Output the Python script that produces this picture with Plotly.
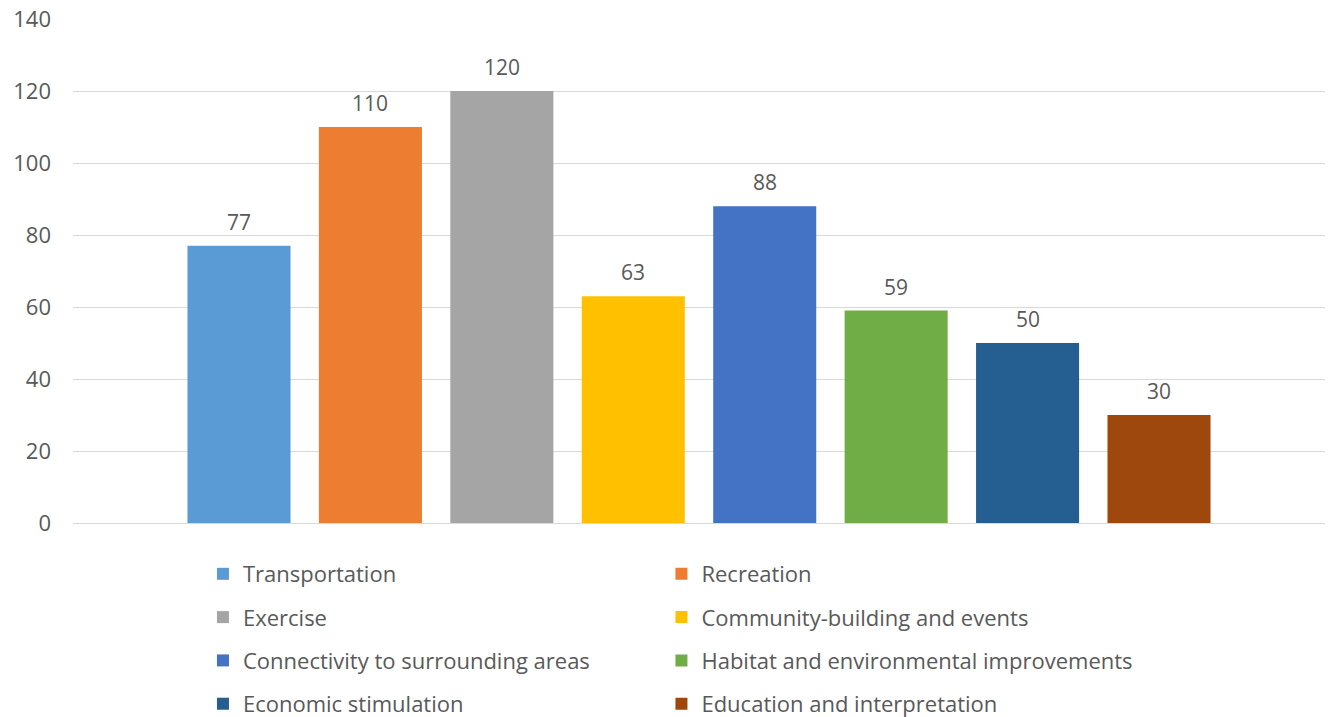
import plotly.graph_objects as go

# Survey responses per benefit category
categories = [
    "Transportation",
    "Recreation",
    "Exercise",
    "Community-building and events",
    "Connectivity to surrounding areas",
    "Habitat and environmental improvements",
    "Economic stimulation",
    "Education and interpretation",
]
values = [77, 110, 120, 63, 88, 59, 50, 30]
colors = ["#5B9BD5", "#ED7D31", "#A5A5A5", "#FFC000",
          "#4472C4", "#70AD47", "#255E91", "#9E480E"]
y_ticks = [0, 20, 40, 60, 80, 100, 120, 140]

FONT = "Open Sans, Noto Sans, sans-serif"
TEXT_COLOR = "#595959"

fig = go.Figure()
for i, (name, val, col) in enumerate(zip(categories, values, colors)):
    fig.add_trace(go.Bar(
        x=[i], y=[val], name=name,
        marker=dict(color=col, line=dict(width=0)),
        width=0.784,
        legendgroup=name,
        legend="legend" if i % 2 == 0 else "legend2",
    ))
    # value label sitting just above the bar
    fig.add_annotation(
        x=i, y=val, text=str(val), showarrow=False,
        xanchor="center", yanchor="bottom", yshift=8,
        font=dict(size=21, color=TEXT_COLOR, family=FONT),
    )

# Two legend columns; vertical position measured against the whole figure
legend_common = dict(
    orientation="v",
    traceorder="grouped",
    tracegroupgap=11.7,
    font=dict(size=22, color=TEXT_COLOR, family=FONT),
    bgcolor="rgba(0,0,0,0)",
    xref="paper", yref="container",
    yanchor="top", y=0.2287,
    xanchor="left",
)

fig.update_layout(
    width=1332, height=717,
    margin=dict(l=73, r=7, t=19, b=194),
    plot_bgcolor="white", paper_bgcolor="white",
    barmode="overlay",
    showlegend=True,
    font=dict(family=FONT, color=TEXT_COLOR),
    xaxis=dict(range=[-1.263, 8.263], showticklabels=False, showgrid=False,
               zeroline=False, showline=False, fixedrange=True,
               automargin=False),
    yaxis=dict(range=[0, 140], tickvals=y_ticks, showgrid=True,
               gridcolor="#D9D9D9", gridwidth=1, zeroline=True,
               zerolinecolor="#D9D9D9", zerolinewidth=1, showline=False,
               tickfont=dict(size=22, color=TEXT_COLOR, family=FONT),
               ticklabelstandoff=21, fixedrange=True, automargin=False),
    legend=dict(**legend_common, x=0.1038),
    legend2=dict(**legend_common, x=0.470),
)

fig.write_html("out.html")
